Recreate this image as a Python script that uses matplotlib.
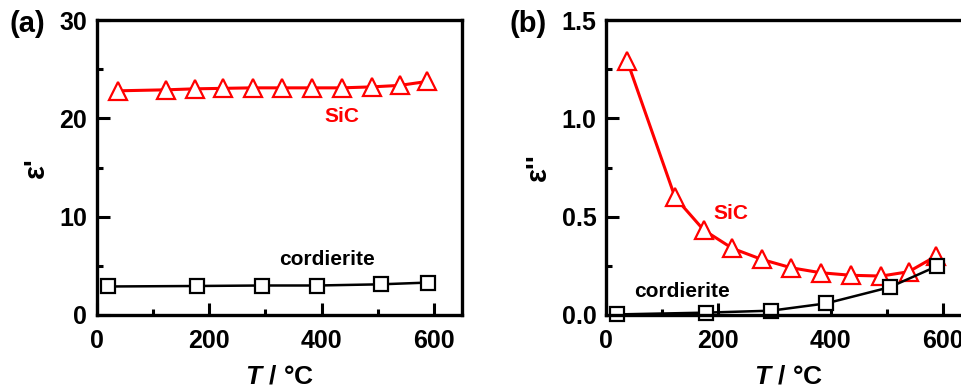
import numpy as np
import matplotlib
matplotlib.use("Agg")
import matplotlib.pyplot as plt
from matplotlib.ticker import MultipleLocator

# data
T_sic = [38, 123, 174, 225, 277, 330, 382, 436, 490, 539, 588]
T_cor = [20, 178, 294, 392, 505, 590]

eps1_sic = [22.8, 22.9, 23.0, 23.05, 23.1, 23.1, 23.1, 23.1, 23.2, 23.35, 23.75]
eps1_cor = [2.9, 2.95, 3.0, 3.0, 3.12, 3.3]

eps2_sic = [1.29, 0.598, 0.432, 0.339, 0.283, 0.240, 0.215, 0.202, 0.198, 0.220, 0.300]
eps2_cor = [0.003, 0.012, 0.022, 0.059, 0.141, 0.249]

plt.rcParams['font.family'] = ['Liberation Sans', 'DejaVu Sans']
plt.rcParams['font.weight'] = 'bold'
plt.rcParams['mathtext.fontset'] = 'custom'
plt.rcParams['mathtext.it'] = 'Liberation Sans:italic:bold'
plt.rcParams['mathtext.rm'] = 'Liberation Sans:bold'

W, H = 962, 387
fig = plt.figure(figsize=(W / 100, H / 100), dpi=100)

ax_a = fig.add_axes([97 / W, 72 / H, 365 / W, 295 / H])
ax_b = fig.add_axes([606 / W, 72 / H, 365 / W, 295 / H])


def style(ax, ylim, major, minor, ylabel):
    ax.set_xlim(0, 650)
    ax.set_ylim(*ylim)
    ax.xaxis.set_major_locator(MultipleLocator(200))
    ax.xaxis.set_minor_locator(MultipleLocator(100))
    ax.yaxis.set_major_locator(MultipleLocator(major))
    ax.yaxis.set_minor_locator(MultipleLocator(minor))
    ax.tick_params(which='both', direction='in', width=2.2, labelsize=18,
                   top=False, right=False)
    ax.tick_params(which='major', length=9, pad=7)
    ax.tick_params(which='minor', length=4.5)
    ax.tick_params(axis='x', which='major', pad=10)
    for s in ax.spines.values():
        s.set_linewidth(2.4)
    ax.set_xlabel("$T$ / °C", fontsize=19, fontweight='bold', labelpad=8)
    ax.set_ylabel(ylabel, fontsize=21, fontweight='bold', labelpad=7)


# (a) real part
ax_a.plot(T_sic, eps1_sic, color='red', lw=2.2, marker='^', ms=13,
          mfc='white', mec='red', mew=1.6, clip_on=False)
ax_a.plot(T_cor, eps1_cor, color='black', lw=1.8, marker='s', ms=9.5,
          mfc='white', mec='black', mew=1.6, clip_on=False)
ax_a.text(437, 20.2, "SiC", color='red', fontsize=15, fontweight='bold',
          ha='center', va='center')
ax_a.text(409, 5.6, "cordierite", color='black', fontsize=15,
          fontweight='bold', ha='center', va='center')
style(ax_a, (0, 30), 10, 5, "ε'")
ax_a.yaxis.set_major_formatter(plt.FormatStrFormatter('%d'))

# (b) imaginary part
ax_b.plot(T_sic, eps2_sic, color='red', lw=2.2, marker='^', ms=13,
          mfc='white', mec='red', mew=1.6, clip_on=False)
ax_b.plot(T_cor, eps2_cor, color='black', lw=1.8, marker='s', ms=9.5,
          mfc='white', mec='black', mew=1.6, clip_on=False)
ax_b.text(223, 0.517, "SiC", color='red', fontsize=15, fontweight='bold',
          ha='center', va='center')
ax_b.text(136, 0.118, "cordierite", color='black', fontsize=15,
          fontweight='bold', ha='center', va='center')
style(ax_b, (0, 1.5), 0.5, 0.25, "ε''")
ax_b.yaxis.set_major_formatter(plt.FormatStrFormatter('%.1f'))

fig.text(27 / W, 1 - 24 / H, "(a)", fontsize=21, fontweight='bold',
         ha='center', va='center')
fig.text(528 / W, 1 - 24 / H, "(b)", fontsize=21, fontweight='bold',
         ha='center', va='center')

fig.savefig("out.png", dpi=100)
